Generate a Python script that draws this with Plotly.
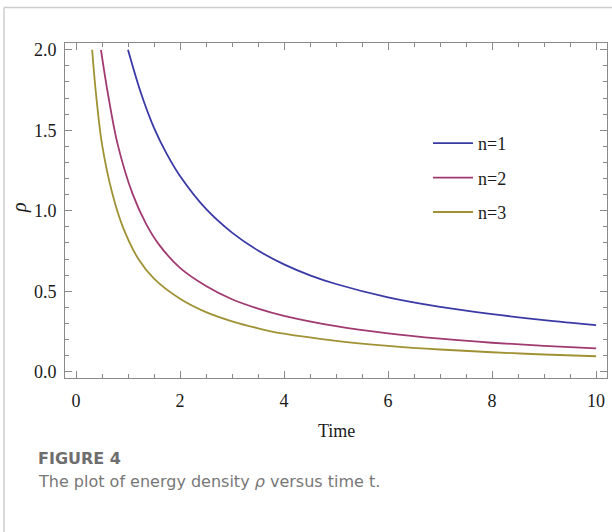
import plotly.graph_objects as go

# ---- data ----
t_n1 = [1.0, 1.25, 1.5, 1.75, 2.0, 2.5, 3.0, 3.5, 4.0, 4.5, 5.0, 6.0, 7.0, 8.0, 9.0, 10.0]
rho_n1 = [2.0, 1.73, 1.515, 1.35, 1.216, 1.011, 0.864, 0.753, 0.667, 0.599, 0.545, 0.462, 0.403, 0.358, 0.321, 0.29]

t_n2 = [0.48, 0.615, 0.80, 1.09, 1.35, 1.6, 2.0, 2.5, 3.0, 3.5, 4.0, 5.0, 6.0, 7.0, 8.0, 9.0, 10.0]
rho_n2 = [2.0, 1.725, 1.414, 1.103, 0.917, 0.788, 0.645, 0.5325, 0.45, 0.392, 0.347, 0.2826, 0.238, 0.2052, 0.18, 0.1607, 0.145]

t_n3 = [0.31, 0.385, 0.5, 0.7, 0.9, 1.2, 1.5, 2.0, 2.5, 3.0, 3.5, 4.0, 5.0, 6.0, 7.0, 8.0, 9.0, 10.0]
rho_n3 = [2.0, 1.725, 1.414, 1.105, 0.9, 0.70, 0.578, 0.453, 0.37, 0.313, 0.27, 0.236, 0.192, 0.161, 0.138, 0.121, 0.107, 0.096]

series_names = ["n=1", "n=2", "n=3"]
series_colors = ["#3a3aa6", "#a03a70", "#a09234"]

x_ticks = [0, 2, 4, 6, 8, 10]
y_ticks = [0.0, 0.5, 1.0, 1.5, 2.0]
y_tick_labels = ["0.0", "0.5", "1.0", "1.5", "2.0"]

# ---- layout geometry (pixels) ----
W, H = 612, 532
L, R, T, B = 65, 607, 43, 378


def px(xp):
    return (xp - L) / (R - L)


def py(yp):
    return (B - yp) / (B - T)


fig = go.Figure()
for tt, rr, name, col in zip([t_n1, t_n2, t_n3], [rho_n1, rho_n2, rho_n3], series_names, series_colors):
    fig.add_trace(go.Scatter(
        x=tt, y=rr, mode="lines", name=name, legendgroup=name,
        line=dict(color=col, width=1.8, shape="spline", smoothing=1.0),
    ))

serif = "Liberation Serif, Times New Roman, serif"
axis_common = dict(
    showline=True, linecolor="#8a8a8a", linewidth=1, mirror="ticks",
    ticks="inside", tickcolor="#8a8a8a", ticklen=7, tickwidth=1,
    showgrid=False, zeroline=False,
    tickfont=dict(family=serif, size=18, color="#1a1a1a"),
)

fig.update_xaxes(
    range=[-0.2115, 10.21], tickvals=x_ticks, ticklabelstandoff=6,
    minor=dict(ticks="inside", dtick=0.5, ticklen=4, tickcolor="#8a8a8a", showgrid=False),
    **axis_common,
)
fig.update_yaxes(
    range=[-0.039, 2.042], tickvals=y_ticks, ticktext=y_tick_labels, ticklabelstandoff=4,
    minor=dict(ticks="inside", dtick=0.1, ticklen=4, tickcolor="#8a8a8a", showgrid=False),
    **axis_common,
)

sans = "DejaVu Sans, sans-serif"
fig.update_layout(
    width=W, height=H,
    margin=dict(l=L, r=W - R, t=T, b=H - B, autoexpand=False),
    paper_bgcolor="white", plot_bgcolor="white",
    showlegend=True,
    legend=dict(
        x=px(428), y=py(125), xanchor="left", yanchor="top",
        font=dict(family=serif, size=18, color="#1a1a1a"),
        bgcolor="rgba(0,0,0,0)", tracegroupgap=8, itemwidth=40,
    ),
    annotations=[
        dict(text="Time", x=px(336), y=py(431), xref="paper", yref="paper",
             showarrow=False, font=dict(family=serif, size=18, color="#1a1a1a"),
             xanchor="center", yanchor="middle"),
        dict(text="<i>ρ</i>", x=px(19), y=py(208), xref="paper", yref="paper",
             showarrow=False, textangle=-90, font=dict(family=serif, size=20, color="#1a1a1a"),
             xanchor="center", yanchor="middle"),
        dict(text="<b>FIGURE 4</b>", x=px(36), y=py(458), xref="paper", yref="paper",
             showarrow=False, font=dict(family=sans, size=16, color="#6e6e6e"),
             xanchor="left", yanchor="middle"),
        dict(text="The plot of energy density <i>ρ</i> versus time t.", x=px(36), y=py(481),
             xref="paper", yref="paper",
             showarrow=False, font=dict(family=sans, size=16, color="#777777"),
             xanchor="left", yanchor="middle"),
    ],
    shapes=[
        dict(type="line", xref="paper", yref="paper", x0=px(4), x1=px(612), y0=py(7.5), y1=py(7.5),
             line=dict(color="#cccccc", width=1.5)),
        dict(type="line", xref="paper", yref="paper", x0=px(4), x1=px(4), y0=py(7.5), y1=py(532),
             line=dict(color="#cccccc", width=1.5)),
    ],
)

fig.write_html("out.html")
